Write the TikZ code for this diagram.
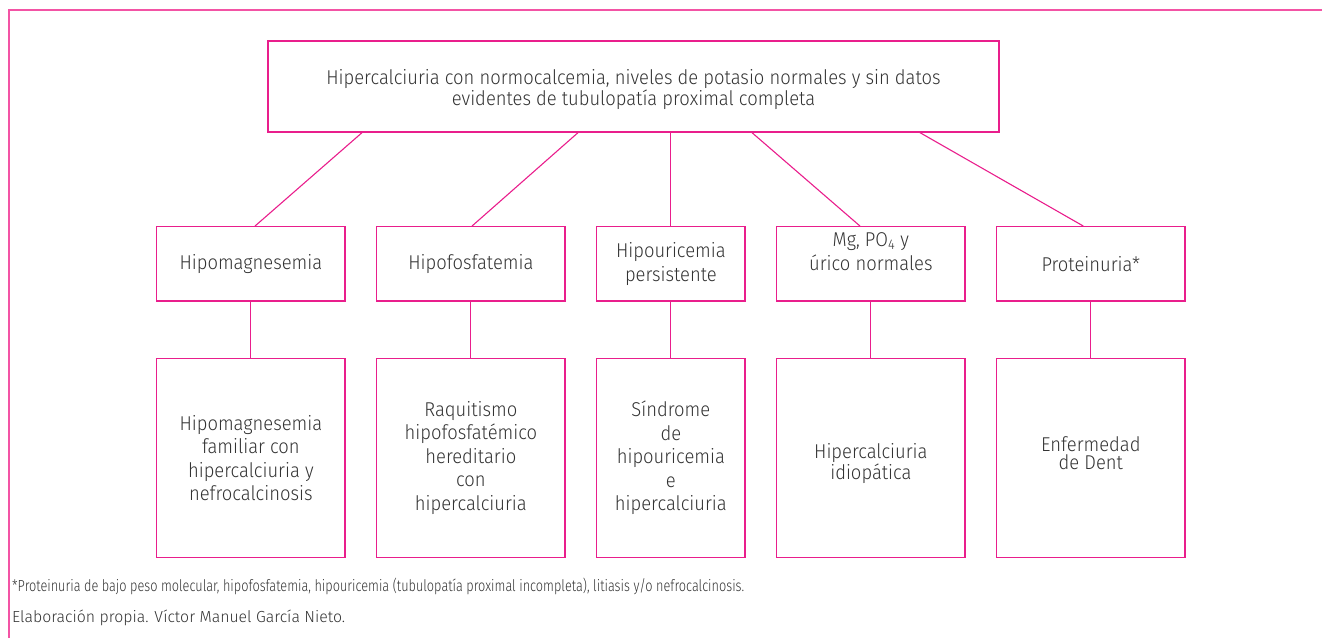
\documentclass[tikz,border=0pt]{standalone}
\usepackage{fontspec}
\usepackage{graphicx}
\IfFontExistsTF{Fira Sans Light}{\setmainfont{Fira Sans Light}[FakeStretch=0.92]\newfontfamily\fnfont{Fira Sans Light}}{\setmainfont{Fira Sans}[FakeStretch=0.92]\newfontfamily\fnfont{Fira Sans}}
\definecolor{boxpink}{RGB}{233,30,140}
\definecolor{framepink}{RGB}{243,84,165}
\definecolor{txtgrey}{RGB}{51,51,51}
\begin{document}
\begin{tikzpicture}[x=1pt,y=-1pt,
  box/.style={draw=boxpink, line width=1.3pt, rectangle, inner sep=0pt, align=center, text=txtgrey, font=\fontsize{20}{23.5}\selectfont},
  midbox/.style={box, minimum width=188.3pt, minimum height=74.3pt},
  narrowmid/.style={box, minimum width=148.3pt, minimum height=74.3pt},
  lowbox/.style={box, minimum width=188.3pt, minimum height=199.4pt},
  narrowlow/.style={box, minimum width=148.3pt, minimum height=199.4pt},
  conn/.style={draw=boxpink, line width=1.1pt},
  fn/.style={anchor=west, inner sep=0pt, text=txtgrey, font=\fnfont\fontsize{16}{18}\selectfont}]
\useasboundingbox (0,0) rectangle (1322,638);
\draw[framepink, line width=1.8pt] (9,638) -- (9,10) -- (1322,10);
\node[box, minimum width=731pt, minimum height=91pt, font=\fontsize{20}{19}\selectfont] (top) at (633.5,86.5)
  {\rule{0pt}{21pt}Hipercalciuria con normocalcemia, niveles de potasio normales y sin datos\\evidentes de tubulopatía proximal completa};
\node[midbox] (m1) at (250.85,263.85) {Hipomagnesemia};
\node[midbox] (m2) at (470.85,263.85) {Hipofosfatemia};
\node[narrowmid, font=\fontsize{20}{24}\selectfont] (m3) at (670.85,263.85) {Hipouricemia\\persistente};
\node[midbox, font=\fontsize{20}{24}\selectfont] (m4) at (870.85,263.85) {Mg, PO\textsubscript{4} y\\úrico normales\\\mbox{}};
\node[midbox] (m5) at (1090.85,263.85) {Proteinuria*};
\node[lowbox] (b1) at (250.85,458) {Hipomagnesemia\\familiar con\\hipercalciuria y\\nefrocalcinosis};
\node[lowbox] (b2) at (470.85,458) {Raquitismo\\hipofosfatémico\\hereditario\\con\\hipercalciuria};
\node[narrowlow] (b3) at (670.85,458) {Síndrome\\de\\hipouricemia\\e\\hipercalciuria};
\node[lowbox, font=\fontsize{20}{18}\selectfont] (b4) at (870.85,458) {\rule{0pt}{26pt}Hipercalciuria\\idiopática};
\node[lowbox, font=\fontsize{20}{18}\selectfont] (b5) at (1090.85,458) {Enfermedad\\de Dent\rule[-9pt]{0pt}{9pt}};
\draw[conn] (top.south -| 362,0) -- (m1.north -| 255,0);
\draw[conn] (top.south -| 578,0) -- (m2.north -| 472,0);
\draw[conn] (top.south -| m3.north) -- (m3.north);
\draw[conn] (top.south -| 752,0) -- (m4.north -| 860,0);
\draw[conn] (top.south -| 920,0) -- (m5.north -| 1083.3,0);
\draw[conn] (m1.south) -- (b1.north);
\draw[conn] (m2.south) -- (b2.north);
\draw[conn] (m3.south) -- (b3.north);
\draw[conn] (m4.south) -- (b4.north);
\draw[conn] (m5.south) -- (b5.north);
\node[fn] (fn1) at (12,586) {\resizebox{732pt}{\height}{*Proteinuria de bajo peso molecular, hipofosfatemia, hipouricemia (tubulopatía proximal incompleta), litiasis y/o nefrocalcinosis.}};
\node[fn] (fn2) at (12,617.5) {\resizebox{333pt}{\height}{Elaboración propia. Víctor Manuel García Nieto.}};
\end{tikzpicture}
\end{document}
